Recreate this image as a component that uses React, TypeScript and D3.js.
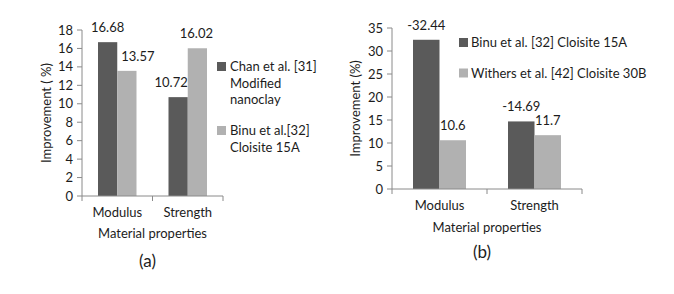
import * as d3 from 'd3'

const categories = ['Modulus', 'Strength']

// panel (a)
const seriesA = ['Chan et al. [31] Modified nanoclay', 'Binu et al.[32] Cloisite 15A']
const valuesA = [
  [16.68, 10.72],
  [13.57, 16.02],
]
const ticksA = [0, 2, 4, 6, 8, 10, 12, 14, 16, 18]
const legendLinesA = [['Chan et al. [31]', 'Modified', 'nanoclay'], ['Binu et al.[32]', 'Cloisite 15A']]

// panel (b) - labels were printed with a minus sign in the original
const seriesB = ['Binu et al. [32] Cloisite 15A', 'Withers et al. [42] Cloisite 30B']
const valuesB = [
  [32.44, 14.69],
  [10.6, 11.7],
]
const labelsB = [
  ['-32.44', '-14.69'],
  ['10.6', '11.7'],
]
const ticksB = [0, 5, 10, 15, 20, 25, 30, 35]

const COLORS = ['#5a5a5a', '#b1b1b1']
const AXIS = '#8a8a8a'
const TEXT = '#1c1c1c'
const FONT = 'Lato, "Open Sans", sans-serif'

type PanelProps = {
  x0: number
  y0: number
  x1: number
  yTop: number
  yBottom: number
  yMax: number
  ticks: number[]
  values: number[][]
  labels: string[][]
  labelShift: number[][]
  outerPad: number
  yTitle: string
  yTitleX: number
  catY: number
  titleY: number
  caption: string
  captionY: number
}

function Panel(p: PanelProps) {
  const xc = d3.scaleBand<string>().domain(categories).range([p.x0, p.x1]).padding(0)
  const xs = d3
    .scaleBand<number>()
    .domain(p.values.map((_, i) => i))
    .range([p.outerPad, xc.bandwidth() - p.outerPad])
  const y = d3.scaleLinear().domain([0, p.yMax]).range([p.yBottom, p.yTop])
  const mid = (p.x0 + p.x1) / 2
  const yMidTitle = (p.yTop + p.yBottom) / 2

  return (
    <g fontFamily={FONT} fill={TEXT}>
      {p.values.map((row, si) =>
        row.map((v, ci) => {
          const bx = (xc(categories[ci]) ?? 0) + (xs(si) ?? 0)
          return (
            <g key={`${si}-${ci}`}>
              <rect x={bx} y={y(v)} width={xs.bandwidth()} height={p.yBottom - y(v)} fill={COLORS[si]} />
              <text
                x={bx + xs.bandwidth() / 2 + p.labelShift[si][ci]}
                y={y(v) - 10}
                textAnchor="middle"
                fontSize={13}
              >
                {p.labels[si][ci]}
              </text>
            </g>
          )
        })
      )}
      {/* y axis */}
      <line x1={p.x0} x2={p.x0} y1={p.yTop} y2={p.yBottom} stroke={AXIS} />
      {p.ticks.map((t) => (
        <g key={t}>
          <line x1={p.x0 - 5} x2={p.x0} y1={y(t)} y2={y(t)} stroke={AXIS} />
          <text x={p.x0 - 9} y={y(t)} dy="0.35em" textAnchor="end" fontSize={13}>
            {t}
          </text>
        </g>
      ))}
      {/* x axis */}
      <line x1={p.x0} x2={p.x1} y1={p.yBottom} y2={p.yBottom} stroke={AXIS} />
      {[p.x0, mid, p.x1].map((tx) => (
        <line key={tx} x1={tx} x2={tx} y1={p.yBottom} y2={p.yBottom + 5} stroke={AXIS} />
      ))}
      {categories.map((c) => (
        <text key={c} x={(xc(c) ?? 0) + xc.bandwidth() / 2} y={p.catY} textAnchor="middle" fontSize={13}>
          {c}
        </text>
      ))}
      <text x={mid} y={p.titleY} textAnchor="middle" fontSize={13}>
        Material properties
      </text>
      <text
        transform={`translate(${p.yTitleX},${yMidTitle}) rotate(-90)`}
        textAnchor="middle"
        dy="0.35em"
        fontSize={13}
      >
        {p.yTitle}
      </text>
      <text x={mid - 5} y={p.captionY} textAnchor="middle" fontSize={17}>
        {p.caption}
      </text>
    </g>
  )
}

export default function App() {
  return (
    <svg width={674} height={294} style={{ position: 'absolute', left: 0, top: 0, background: '#fff' }}>
      <rect width={674} height={294} fill="#fff" />
      <Panel
        x0={82}
        y0={0}
        x1={223}
        yTop={30}
        yBottom={196}
        yMax={18}
        ticks={ticksA}
        values={valuesA}
        labels={valuesA.map((r) => r.map((v) => v.toFixed(2)))}
        labelShift={[
          [0, -7],
          [11, -1],
        ]}
        outerPad={16}
        yTitle="Improvement ( %)"
        yTitleX={46}
        catY={217}
        titleY={238}
        caption="(a)"
        captionY={267}
      />
      <g fontFamily={FONT} fill={TEXT} fontSize={13}>
        {legendLinesA.map((lines, i) => (
          <g key={seriesA[i]}>
            <rect x={217} y={i === 0 ? 62 : 126} width={9} height={9} fill={COLORS[i]} />
            {lines.map((l, j) => (
              <text key={l} x={230} y={(i === 0 ? 71 : 135) + j * 16.5}>
                {l}
              </text>
            ))}
          </g>
        ))}
      </g>
      <Panel
        x0={392}
        y0={0}
        x1={582}
        yTop={28}
        yBottom={189}
        yMax={35}
        ticks={ticksB}
        values={valuesB}
        labels={labelsB}
        labelShift={[
          [0, 0],
          [0, 0],
        ]}
        outerPad={21}
        yTitle="Improvement (%)"
        yTitleX={355}
        catY={210}
        titleY={232}
        caption="(b)"
        captionY={258}
      />
      <g fontFamily={FONT} fill={TEXT} fontSize={13}>
        {seriesB.map((s, i) => (
          <g key={s}>
            <rect x={459} y={38 + i * 30.5} width={9} height={9} fill={COLORS[i]} />
            <text x={471} y={47 + i * 30.5}>
              {s}
            </text>
          </g>
        ))}
      </g>
    </svg>
  )
}
